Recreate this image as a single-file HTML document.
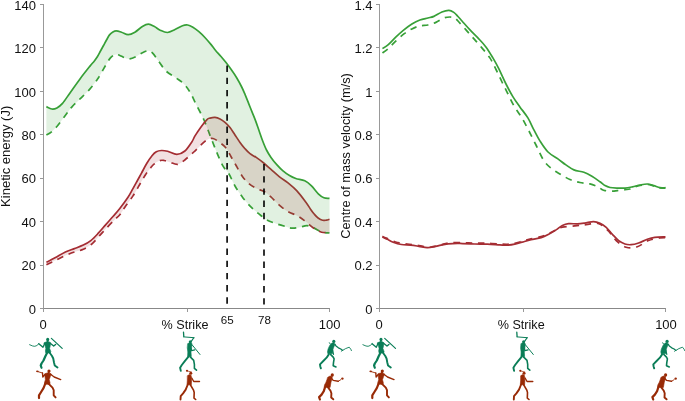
<!DOCTYPE html>
<html><head><meta charset="utf-8"><style>
html,body{margin:0;padding:0;background:#fff;}
body{width:685px;height:401px;overflow:hidden;position:relative;}
svg{position:absolute;left:0;top:0;will-change:transform;}
text{font-family:"Liberation Sans",sans-serif;fill:#111;}
</style></head><body>
<svg width="685" height="401" viewBox="0 0 685 401">
<g font-size="13">
<line x1="43.5" y1="4" x2="43.5" y2="309" stroke="#999" stroke-width="1"/>
<line x1="43.0" y1="308.5" x2="330.0" y2="308.5" stroke="#888" stroke-width="1"/>
<line x1="40.0" y1="308.5" x2="43.5" y2="308.5" stroke="#999" stroke-width="1"/>
<text x="36" y="313.70" text-anchor="end">0</text>
<line x1="40.0" y1="265.5" x2="43.5" y2="265.5" stroke="#999" stroke-width="1"/>
<text x="36" y="270.27" text-anchor="end">20</text>
<line x1="40.0" y1="221.5" x2="43.5" y2="221.5" stroke="#999" stroke-width="1"/>
<text x="36" y="226.84" text-anchor="end">40</text>
<line x1="40.0" y1="178.5" x2="43.5" y2="178.5" stroke="#999" stroke-width="1"/>
<text x="36" y="183.41" text-anchor="end">60</text>
<line x1="40.0" y1="134.5" x2="43.5" y2="134.5" stroke="#999" stroke-width="1"/>
<text x="36" y="139.98" text-anchor="end">80</text>
<line x1="40.0" y1="91.5" x2="43.5" y2="91.5" stroke="#999" stroke-width="1"/>
<text x="36" y="96.55" text-anchor="end">100</text>
<line x1="40.0" y1="47.5" x2="43.5" y2="47.5" stroke="#999" stroke-width="1"/>
<text x="36" y="53.12" text-anchor="end">120</text>
<line x1="40.0" y1="4.5" x2="43.5" y2="4.5" stroke="#999" stroke-width="1"/>
<text x="36" y="9.69" text-anchor="end">140</text>
<line x1="43.5" y1="308.5" x2="43.5" y2="312" stroke="#999" stroke-width="1"/>
<line x1="187.5" y1="308.5" x2="187.5" y2="312" stroke="#999" stroke-width="1"/>
<line x1="329.5" y1="308.5" x2="329.5" y2="312" stroke="#999" stroke-width="1"/>

<line x1="379.5" y1="4" x2="379.5" y2="309" stroke="#999" stroke-width="1"/>
<line x1="379.0" y1="308.5" x2="666.0" y2="308.5" stroke="#888" stroke-width="1"/>
<line x1="376.0" y1="308.5" x2="379.5" y2="308.5" stroke="#999" stroke-width="1"/>
<text x="372.5" y="313.70" text-anchor="end">0</text>
<line x1="376.0" y1="265.5" x2="379.5" y2="265.5" stroke="#999" stroke-width="1"/>
<text x="372.5" y="270.27" text-anchor="end">0.2</text>
<line x1="376.0" y1="221.5" x2="379.5" y2="221.5" stroke="#999" stroke-width="1"/>
<text x="372.5" y="226.84" text-anchor="end">0.4</text>
<line x1="376.0" y1="178.5" x2="379.5" y2="178.5" stroke="#999" stroke-width="1"/>
<text x="372.5" y="183.41" text-anchor="end">0.6</text>
<line x1="376.0" y1="134.5" x2="379.5" y2="134.5" stroke="#999" stroke-width="1"/>
<text x="372.5" y="139.98" text-anchor="end">0.8</text>
<line x1="376.0" y1="91.5" x2="379.5" y2="91.5" stroke="#999" stroke-width="1"/>
<text x="372.5" y="96.55" text-anchor="end">1</text>
<line x1="376.0" y1="47.5" x2="379.5" y2="47.5" stroke="#999" stroke-width="1"/>
<text x="372.5" y="53.12" text-anchor="end">1.2</text>
<line x1="376.0" y1="4.5" x2="379.5" y2="4.5" stroke="#999" stroke-width="1"/>
<text x="372.5" y="9.69" text-anchor="end">1.4</text>
<line x1="379.5" y1="308.5" x2="379.5" y2="312" stroke="#999" stroke-width="1"/>
<line x1="523.5" y1="308.5" x2="523.5" y2="312" stroke="#999" stroke-width="1"/>
<line x1="665.5" y1="308.5" x2="665.5" y2="312" stroke="#999" stroke-width="1"/>

</g>
<path d="M46.40,134.90 C47.20,134.43 49.45,133.50 51.20,132.10 C52.95,130.70 55.02,128.65 56.90,126.50 C58.78,124.35 60.65,121.63 62.50,119.20 C64.35,116.77 66.42,113.97 68.00,111.90 C69.58,109.83 70.00,108.97 72.00,106.80 C74.00,104.63 77.00,101.88 80.00,98.90 C83.00,95.92 87.17,92.07 90.00,88.90 C92.83,85.73 95.50,81.90 97.00,79.90 C98.50,77.90 98.00,78.57 99.00,76.90 C100.00,75.23 101.75,72.07 103.00,69.90 C104.25,67.73 105.33,65.82 106.50,63.90 C107.67,61.98 108.75,59.88 110.00,58.40 C111.25,56.92 112.83,55.65 114.00,55.00 C115.17,54.35 115.83,54.33 117.00,54.50 C118.17,54.67 119.67,55.42 121.00,56.00 C122.33,56.58 123.55,57.52 125.00,58.00 C126.45,58.48 127.80,59.17 129.70,58.90 C131.60,58.63 134.28,57.43 136.40,56.40 C138.52,55.37 140.40,53.65 142.40,52.70 C144.40,51.75 146.65,50.58 148.40,50.70 C150.15,50.82 151.22,51.68 152.90,53.40 C154.58,55.12 156.32,58.07 158.50,61.00 C160.68,63.93 163.08,68.18 166.00,71.00 C168.92,73.82 173.02,75.75 176.00,77.90 C178.98,80.05 181.58,81.57 183.90,83.90 C186.22,86.23 187.90,88.57 189.90,91.90 C191.90,95.23 193.55,99.22 195.90,103.90 C198.25,108.58 201.48,114.33 204.00,120.00 C206.52,125.67 208.83,132.42 211.00,137.90 C213.17,143.38 215.02,148.23 217.00,152.90 C218.98,157.57 220.90,162.38 222.90,165.90 C224.90,169.42 226.98,170.65 229.00,174.00 C231.02,177.35 232.67,182.02 235.00,186.00 C237.33,189.98 240.35,194.42 243.00,197.90 C245.65,201.38 248.25,204.23 250.90,206.90 C253.55,209.57 256.23,211.73 258.90,213.90 C261.57,216.07 263.90,218.23 266.90,219.90 C269.90,221.57 273.57,222.73 276.90,223.90 C280.23,225.07 284.38,226.18 286.90,226.90 C289.42,227.62 289.95,228.12 292.00,228.20 C294.05,228.28 296.70,227.82 299.20,227.40 C301.70,226.98 304.57,225.62 307.00,225.70 C309.43,225.78 311.37,226.87 313.80,227.90 C316.23,228.93 318.98,231.05 321.60,231.90 C324.22,232.75 328.18,232.82 329.50,233.00" fill="none" stroke="#38a038" stroke-width="1.7" stroke-dasharray="6.5 5.7"/>
<path d="M46.40,106.60 C47.30,107.00 50.05,108.78 51.80,109.00 C53.55,109.22 55.12,108.83 56.90,107.90 C58.68,106.97 60.32,105.90 62.50,103.40 C64.68,100.90 67.08,96.98 70.00,92.90 C72.92,88.82 76.67,83.37 80.00,78.90 C83.33,74.43 87.67,69.02 90.00,66.10 C92.33,63.18 92.75,63.00 94.00,61.40 C95.25,59.80 96.42,58.23 97.50,56.50 C98.58,54.77 99.50,52.83 100.50,51.00 C101.50,49.17 102.50,47.33 103.50,45.50 C104.50,43.67 105.50,41.77 106.50,40.00 C107.50,38.23 108.43,36.23 109.50,34.90 C110.57,33.57 111.78,32.67 112.90,32.00 C114.02,31.33 114.77,30.87 116.20,30.90 C117.63,30.93 119.50,31.57 121.50,32.20 C123.50,32.83 125.97,34.70 128.20,34.70 C130.43,34.70 132.53,33.57 134.90,32.20 C137.27,30.83 140.15,27.83 142.40,26.50 C144.65,25.17 146.40,24.20 148.40,24.20 C150.40,24.20 152.43,25.50 154.40,26.50 C156.37,27.50 158.02,29.20 160.20,30.20 C162.38,31.20 165.03,32.62 167.50,32.50 C169.97,32.38 172.50,30.63 175.00,29.50 C177.50,28.37 180.38,26.45 182.50,25.70 C184.62,24.95 185.97,24.75 187.70,25.00 C189.43,25.25 191.03,26.08 192.90,27.20 C194.77,28.32 196.90,29.98 198.90,31.70 C200.90,33.42 202.90,35.38 204.90,37.50 C206.90,39.62 209.15,42.28 210.90,44.40 C212.65,46.52 213.72,48.18 215.40,50.20 C217.08,52.22 219.23,54.43 221.00,56.50 C222.77,58.57 224.30,60.42 226.00,62.60 C227.70,64.78 229.45,67.12 231.20,69.60 C232.95,72.08 234.75,74.60 236.50,77.50 C238.25,80.40 240.25,84.10 241.70,87.00 C243.15,89.90 244.03,92.13 245.20,94.90 C246.37,97.67 247.53,100.68 248.70,103.60 C249.87,106.52 251.03,109.48 252.20,112.40 C253.37,115.32 254.57,118.08 255.70,121.10 C256.83,124.12 257.83,127.18 259.00,130.50 C260.17,133.82 261.45,137.75 262.70,141.00 C263.95,144.25 265.12,147.27 266.50,150.00 C267.88,152.73 269.25,154.92 271.00,157.40 C272.75,159.88 275.00,162.65 277.00,164.90 C279.00,167.15 280.92,169.12 283.00,170.90 C285.08,172.68 287.37,174.33 289.50,175.60 C291.63,176.87 293.25,177.63 295.80,178.50 C298.35,179.37 302.18,179.57 304.80,180.80 C307.42,182.03 309.25,183.73 311.50,185.90 C313.75,188.07 316.23,191.82 318.30,193.80 C320.37,195.78 322.03,197.05 323.90,197.80 C325.77,198.55 328.57,198.22 329.50,198.30" fill="none" stroke="#38a038" stroke-width="1.7"/>
<path d="M46.40,264.80 C47.83,264.10 51.83,262.15 55.00,260.60 C58.17,259.05 62.17,256.93 65.40,255.50 C68.63,254.07 71.42,253.03 74.40,252.00 C77.38,250.97 80.32,250.70 83.30,249.30 C86.28,247.90 89.55,245.92 92.30,243.60 C95.05,241.28 97.30,238.13 99.80,235.40 C102.30,232.67 104.82,229.82 107.30,227.20 C109.78,224.58 112.58,221.82 114.70,219.70 C116.82,217.58 118.28,216.63 120.00,214.50 C121.72,212.37 122.83,210.00 125.00,206.90 C127.17,203.80 130.35,199.98 133.00,195.90 C135.65,191.82 138.77,186.00 140.90,182.40 C143.03,178.80 144.17,176.73 145.80,174.30 C147.43,171.87 149.33,169.48 150.70,167.80 C152.07,166.12 152.48,165.40 154.00,164.20 C155.52,163.00 158.10,161.22 159.80,160.60 C161.50,159.98 162.52,160.23 164.20,160.50 C165.88,160.77 167.62,161.55 169.90,162.20 C172.18,162.85 175.23,164.93 177.90,164.40 C180.57,163.87 183.25,161.07 185.90,159.00 C188.55,156.93 191.28,154.35 193.80,152.00 C196.32,149.65 198.80,146.92 201.00,144.90 C203.20,142.88 205.00,140.97 207.00,139.90 C209.00,138.83 210.83,138.03 213.00,138.50 C215.17,138.97 217.83,141.12 220.00,142.70 C222.17,144.28 224.13,145.62 226.00,148.00 C227.87,150.38 229.47,154.00 231.20,157.00 C232.93,160.00 234.53,162.77 236.40,166.00 C238.27,169.23 240.27,173.42 242.40,176.40 C244.53,179.38 246.85,181.88 249.20,183.90 C251.55,185.92 254.03,187.23 256.50,188.50 C258.97,189.77 261.60,190.10 264.00,191.50 C266.40,192.90 268.40,194.67 270.90,196.90 C273.40,199.13 276.23,202.50 279.00,204.90 C281.77,207.30 284.33,209.42 287.50,211.30 C290.67,213.18 294.93,214.45 298.00,216.20 C301.07,217.95 303.27,219.80 305.90,221.80 C308.53,223.80 311.18,226.45 313.80,228.20 C316.42,229.95 318.98,231.57 321.60,232.30 C324.22,233.03 328.18,232.55 329.50,232.60" fill="none" stroke="#a52d33" stroke-width="1.7" stroke-dasharray="6.5 5.7"/>
<path d="M46.40,262.30 C47.83,261.55 51.83,259.53 55.00,257.80 C58.17,256.07 62.17,253.43 65.40,251.90 C68.63,250.37 71.42,249.73 74.40,248.60 C77.38,247.47 80.57,246.43 83.30,245.10 C86.03,243.77 88.30,242.58 90.80,240.60 C93.30,238.62 95.80,235.87 98.30,233.20 C100.80,230.53 103.32,227.42 105.80,224.60 C108.28,221.78 110.87,218.98 113.20,216.30 C115.53,213.62 117.33,211.67 119.80,208.50 C122.27,205.33 125.83,200.57 128.00,197.30 C130.17,194.03 131.18,191.78 132.80,188.90 C134.42,186.02 136.25,182.63 137.70,180.00 C139.15,177.37 140.00,175.85 141.50,173.10 C143.00,170.35 144.95,166.40 146.70,163.50 C148.45,160.60 150.40,157.65 152.00,155.70 C153.60,153.75 154.72,152.67 156.30,151.80 C157.88,150.93 159.62,150.58 161.50,150.50 C163.38,150.42 165.03,150.65 167.60,151.30 C170.17,151.95 174.02,154.45 176.90,154.40 C179.78,154.35 182.42,153.07 184.90,151.00 C187.38,148.93 190.12,144.52 191.80,142.00 C193.48,139.48 193.47,138.42 195.00,135.90 C196.53,133.38 199.00,129.62 201.00,126.90 C203.00,124.18 205.50,121.07 207.00,119.60 C208.50,118.13 208.67,118.47 210.00,118.10 C211.33,117.73 213.33,117.27 215.00,117.40 C216.67,117.53 218.33,118.07 220.00,118.90 C221.67,119.73 223.33,120.97 225.00,122.40 C226.67,123.83 228.33,125.40 230.00,127.50 C231.67,129.60 233.33,132.52 235.00,135.00 C236.67,137.48 238.33,140.12 240.00,142.40 C241.67,144.68 243.33,146.82 245.00,148.70 C246.67,150.58 248.13,152.25 250.00,153.70 C251.87,155.15 253.92,155.85 256.20,157.40 C258.48,158.95 261.23,161.00 263.70,163.00 C266.17,165.00 268.37,167.10 271.00,169.40 C273.63,171.70 276.67,174.57 279.50,176.80 C282.33,179.03 285.10,180.47 288.00,182.80 C290.90,185.13 293.92,187.57 296.90,190.80 C299.88,194.03 303.60,199.08 305.90,202.20 C308.20,205.32 309.28,207.48 310.70,209.50 C312.12,211.52 313.17,212.88 314.40,214.30 C315.63,215.72 316.73,217.00 318.10,218.00 C319.47,219.00 321.22,219.95 322.60,220.30 C323.98,220.65 325.25,220.27 326.40,220.10 C327.55,219.93 328.98,219.43 329.50,219.30" fill="none" stroke="#a52d33" stroke-width="1.7"/>
<path d="M46.40,106.60 C47.30,107.00 50.05,108.78 51.80,109.00 C53.55,109.22 55.12,108.83 56.90,107.90 C58.68,106.97 60.32,105.90 62.50,103.40 C64.68,100.90 67.08,96.98 70.00,92.90 C72.92,88.82 76.67,83.37 80.00,78.90 C83.33,74.43 87.67,69.02 90.00,66.10 C92.33,63.18 92.75,63.00 94.00,61.40 C95.25,59.80 96.42,58.23 97.50,56.50 C98.58,54.77 99.50,52.83 100.50,51.00 C101.50,49.17 102.50,47.33 103.50,45.50 C104.50,43.67 105.50,41.77 106.50,40.00 C107.50,38.23 108.43,36.23 109.50,34.90 C110.57,33.57 111.78,32.67 112.90,32.00 C114.02,31.33 114.77,30.87 116.20,30.90 C117.63,30.93 119.50,31.57 121.50,32.20 C123.50,32.83 125.97,34.70 128.20,34.70 C130.43,34.70 132.53,33.57 134.90,32.20 C137.27,30.83 140.15,27.83 142.40,26.50 C144.65,25.17 146.40,24.20 148.40,24.20 C150.40,24.20 152.43,25.50 154.40,26.50 C156.37,27.50 158.02,29.20 160.20,30.20 C162.38,31.20 165.03,32.62 167.50,32.50 C169.97,32.38 172.50,30.63 175.00,29.50 C177.50,28.37 180.38,26.45 182.50,25.70 C184.62,24.95 185.97,24.75 187.70,25.00 C189.43,25.25 191.03,26.08 192.90,27.20 C194.77,28.32 196.90,29.98 198.90,31.70 C200.90,33.42 202.90,35.38 204.90,37.50 C206.90,39.62 209.15,42.28 210.90,44.40 C212.65,46.52 213.72,48.18 215.40,50.20 C217.08,52.22 219.23,54.43 221.00,56.50 C222.77,58.57 224.30,60.42 226.00,62.60 C227.70,64.78 229.45,67.12 231.20,69.60 C232.95,72.08 234.75,74.60 236.50,77.50 C238.25,80.40 240.25,84.10 241.70,87.00 C243.15,89.90 244.03,92.13 245.20,94.90 C246.37,97.67 247.53,100.68 248.70,103.60 C249.87,106.52 251.03,109.48 252.20,112.40 C253.37,115.32 254.57,118.08 255.70,121.10 C256.83,124.12 257.83,127.18 259.00,130.50 C260.17,133.82 261.45,137.75 262.70,141.00 C263.95,144.25 265.12,147.27 266.50,150.00 C267.88,152.73 269.25,154.92 271.00,157.40 C272.75,159.88 275.00,162.65 277.00,164.90 C279.00,167.15 280.92,169.12 283.00,170.90 C285.08,172.68 287.37,174.33 289.50,175.60 C291.63,176.87 293.25,177.63 295.80,178.50 C298.35,179.37 302.18,179.57 304.80,180.80 C307.42,182.03 309.25,183.73 311.50,185.90 C313.75,188.07 316.23,191.82 318.30,193.80 C320.37,195.78 322.03,197.05 323.90,197.80 C325.77,198.55 328.57,198.22 329.50,198.30 L329.50,233.00 C328.18,232.82 324.22,232.75 321.60,231.90 C318.98,231.05 316.23,228.93 313.80,227.90 C311.37,226.87 309.43,225.78 307.00,225.70 C304.57,225.62 301.70,226.98 299.20,227.40 C296.70,227.82 294.05,228.28 292.00,228.20 C289.95,228.12 289.42,227.62 286.90,226.90 C284.38,226.18 280.23,225.07 276.90,223.90 C273.57,222.73 269.90,221.57 266.90,219.90 C263.90,218.23 261.57,216.07 258.90,213.90 C256.23,211.73 253.55,209.57 250.90,206.90 C248.25,204.23 245.65,201.38 243.00,197.90 C240.35,194.42 237.33,189.98 235.00,186.00 C232.67,182.02 231.02,177.35 229.00,174.00 C226.98,170.65 224.90,169.42 222.90,165.90 C220.90,162.38 218.98,157.57 217.00,152.90 C215.02,148.23 213.17,143.38 211.00,137.90 C208.83,132.42 206.52,125.67 204.00,120.00 C201.48,114.33 198.25,108.58 195.90,103.90 C193.55,99.22 191.90,95.23 189.90,91.90 C187.90,88.57 186.22,86.23 183.90,83.90 C181.58,81.57 178.98,80.05 176.00,77.90 C173.02,75.75 168.92,73.82 166.00,71.00 C163.08,68.18 160.68,63.93 158.50,61.00 C156.32,58.07 154.58,55.12 152.90,53.40 C151.22,51.68 150.15,50.82 148.40,50.70 C146.65,50.58 144.40,51.75 142.40,52.70 C140.40,53.65 138.52,55.37 136.40,56.40 C134.28,57.43 131.60,58.63 129.70,58.90 C127.80,59.17 126.45,58.48 125.00,58.00 C123.55,57.52 122.33,56.58 121.00,56.00 C119.67,55.42 118.17,54.67 117.00,54.50 C115.83,54.33 115.17,54.35 114.00,55.00 C112.83,55.65 111.25,56.92 110.00,58.40 C108.75,59.88 107.67,61.98 106.50,63.90 C105.33,65.82 104.25,67.73 103.00,69.90 C101.75,72.07 100.00,75.23 99.00,76.90 C98.00,78.57 98.50,77.90 97.00,79.90 C95.50,81.90 92.83,85.73 90.00,88.90 C87.17,92.07 83.00,95.92 80.00,98.90 C77.00,101.88 74.00,104.63 72.00,106.80 C70.00,108.97 69.58,109.83 68.00,111.90 C66.42,113.97 64.35,116.77 62.50,119.20 C60.65,121.63 58.78,124.35 56.90,126.50 C55.02,128.65 52.95,130.70 51.20,132.10 C49.45,133.50 47.20,134.43 46.40,134.90 Z" fill="#38a038" fill-opacity="0.15" stroke="none"/>
<path d="M46.40,262.30 C47.83,261.55 51.83,259.53 55.00,257.80 C58.17,256.07 62.17,253.43 65.40,251.90 C68.63,250.37 71.42,249.73 74.40,248.60 C77.38,247.47 80.57,246.43 83.30,245.10 C86.03,243.77 88.30,242.58 90.80,240.60 C93.30,238.62 95.80,235.87 98.30,233.20 C100.80,230.53 103.32,227.42 105.80,224.60 C108.28,221.78 110.87,218.98 113.20,216.30 C115.53,213.62 117.33,211.67 119.80,208.50 C122.27,205.33 125.83,200.57 128.00,197.30 C130.17,194.03 131.18,191.78 132.80,188.90 C134.42,186.02 136.25,182.63 137.70,180.00 C139.15,177.37 140.00,175.85 141.50,173.10 C143.00,170.35 144.95,166.40 146.70,163.50 C148.45,160.60 150.40,157.65 152.00,155.70 C153.60,153.75 154.72,152.67 156.30,151.80 C157.88,150.93 159.62,150.58 161.50,150.50 C163.38,150.42 165.03,150.65 167.60,151.30 C170.17,151.95 174.02,154.45 176.90,154.40 C179.78,154.35 182.42,153.07 184.90,151.00 C187.38,148.93 190.12,144.52 191.80,142.00 C193.48,139.48 193.47,138.42 195.00,135.90 C196.53,133.38 199.00,129.62 201.00,126.90 C203.00,124.18 205.50,121.07 207.00,119.60 C208.50,118.13 208.67,118.47 210.00,118.10 C211.33,117.73 213.33,117.27 215.00,117.40 C216.67,117.53 218.33,118.07 220.00,118.90 C221.67,119.73 223.33,120.97 225.00,122.40 C226.67,123.83 228.33,125.40 230.00,127.50 C231.67,129.60 233.33,132.52 235.00,135.00 C236.67,137.48 238.33,140.12 240.00,142.40 C241.67,144.68 243.33,146.82 245.00,148.70 C246.67,150.58 248.13,152.25 250.00,153.70 C251.87,155.15 253.92,155.85 256.20,157.40 C258.48,158.95 261.23,161.00 263.70,163.00 C266.17,165.00 268.37,167.10 271.00,169.40 C273.63,171.70 276.67,174.57 279.50,176.80 C282.33,179.03 285.10,180.47 288.00,182.80 C290.90,185.13 293.92,187.57 296.90,190.80 C299.88,194.03 303.60,199.08 305.90,202.20 C308.20,205.32 309.28,207.48 310.70,209.50 C312.12,211.52 313.17,212.88 314.40,214.30 C315.63,215.72 316.73,217.00 318.10,218.00 C319.47,219.00 321.22,219.95 322.60,220.30 C323.98,220.65 325.25,220.27 326.40,220.10 C327.55,219.93 328.98,219.43 329.50,219.30 L329.50,232.60 C328.18,232.55 324.22,233.03 321.60,232.30 C318.98,231.57 316.42,229.95 313.80,228.20 C311.18,226.45 308.53,223.80 305.90,221.80 C303.27,219.80 301.07,217.95 298.00,216.20 C294.93,214.45 290.67,213.18 287.50,211.30 C284.33,209.42 281.77,207.30 279.00,204.90 C276.23,202.50 273.40,199.13 270.90,196.90 C268.40,194.67 266.40,192.90 264.00,191.50 C261.60,190.10 258.97,189.77 256.50,188.50 C254.03,187.23 251.55,185.92 249.20,183.90 C246.85,181.88 244.53,179.38 242.40,176.40 C240.27,173.42 238.27,169.23 236.40,166.00 C234.53,162.77 232.93,160.00 231.20,157.00 C229.47,154.00 227.87,150.38 226.00,148.00 C224.13,145.62 222.17,144.28 220.00,142.70 C217.83,141.12 215.17,138.97 213.00,138.50 C210.83,138.03 209.00,138.83 207.00,139.90 C205.00,140.97 203.20,142.88 201.00,144.90 C198.80,146.92 196.32,149.65 193.80,152.00 C191.28,154.35 188.55,156.93 185.90,159.00 C183.25,161.07 180.57,163.87 177.90,164.40 C175.23,164.93 172.18,162.85 169.90,162.20 C167.62,161.55 165.88,160.77 164.20,160.50 C162.52,160.23 161.50,159.98 159.80,160.60 C158.10,161.22 155.52,163.00 154.00,164.20 C152.48,165.40 152.07,166.12 150.70,167.80 C149.33,169.48 147.43,171.87 145.80,174.30 C144.17,176.73 143.03,178.80 140.90,182.40 C138.77,186.00 135.65,191.82 133.00,195.90 C130.35,199.98 127.17,203.80 125.00,206.90 C122.83,210.00 121.72,212.37 120.00,214.50 C118.28,216.63 116.82,217.58 114.70,219.70 C112.58,221.82 109.78,224.58 107.30,227.20 C104.82,229.82 102.30,232.67 99.80,235.40 C97.30,238.13 95.05,241.28 92.30,243.60 C89.55,245.92 86.28,247.90 83.30,249.30 C80.32,250.70 77.38,250.97 74.40,252.00 C71.42,253.03 68.63,254.07 65.40,255.50 C62.17,256.93 58.17,259.05 55.00,260.60 C51.83,262.15 47.83,264.10 46.40,264.80 Z" fill="#a52d33" fill-opacity="0.15" stroke="none"/>

<path d="M382.40,52.90 C383.33,52.23 385.73,50.90 388.00,48.90 C390.27,46.90 393.35,43.40 396.00,40.90 C398.65,38.40 401.25,35.90 403.90,33.90 C406.55,31.90 409.23,30.23 411.90,28.90 C414.57,27.57 417.23,26.55 419.90,25.90 C422.57,25.25 425.23,25.58 427.90,25.00 C430.57,24.42 433.23,23.57 435.90,22.40 C438.57,21.23 441.57,18.90 443.90,18.00 C446.23,17.10 448.08,17.00 449.90,17.00 C451.72,17.00 453.45,17.33 454.80,18.00 C456.15,18.67 456.13,19.02 458.00,21.00 C459.87,22.98 463.33,26.92 466.00,29.90 C468.67,32.88 471.35,35.90 474.00,38.90 C476.65,41.90 479.25,44.73 481.90,47.90 C484.55,51.07 487.55,54.30 489.90,57.90 C492.25,61.50 493.98,65.48 496.00,69.50 C498.02,73.52 500.00,77.92 502.00,82.00 C504.00,86.08 506.00,90.02 508.00,94.00 C510.00,97.98 511.68,101.92 514.00,105.90 C516.32,109.88 519.42,113.73 521.90,117.90 C524.38,122.07 526.55,126.38 528.90,130.90 C531.25,135.42 533.48,140.00 536.00,145.00 C538.52,150.00 541.33,156.92 544.00,160.90 C546.67,164.88 549.35,166.73 552.00,168.90 C554.65,171.07 556.92,172.13 559.90,173.90 C562.88,175.67 566.57,178.07 569.90,179.50 C573.23,180.93 576.57,181.77 579.90,182.50 C583.23,183.23 586.90,183.17 589.90,183.90 C592.90,184.63 596.02,186.05 597.90,186.90 C599.78,187.75 600.02,188.38 601.20,189.00 C602.38,189.62 603.12,190.23 605.00,190.60 C606.88,190.97 610.42,191.20 612.50,191.20 C614.58,191.20 615.42,190.85 617.50,190.60 C619.58,190.35 622.92,189.97 625.00,189.70 C627.08,189.43 628.50,189.42 630.00,189.00 C631.50,188.58 632.33,187.78 634.00,187.20 C635.67,186.62 637.77,185.95 640.00,185.50 C642.23,185.05 645.12,184.42 647.40,184.50 C649.68,184.58 651.62,185.42 653.70,186.00 C655.78,186.58 657.93,187.67 659.90,188.00 C661.87,188.33 664.57,188.00 665.50,188.00" fill="none" stroke="#38a038" stroke-width="1.7" stroke-dasharray="6.5 5.7"/>
<path d="M382.40,48.50 C383.33,47.90 385.73,46.83 388.00,44.90 C390.27,42.97 393.35,39.40 396.00,36.90 C398.65,34.40 401.25,32.05 403.90,29.90 C406.55,27.75 409.23,25.65 411.90,24.00 C414.57,22.35 417.23,21.00 419.90,20.00 C422.57,19.00 425.57,18.60 427.90,18.00 C430.23,17.40 431.57,17.40 433.90,16.40 C436.23,15.40 439.40,13.00 441.90,12.00 C444.40,11.00 446.92,10.33 448.90,10.40 C450.88,10.47 452.28,11.38 453.80,12.40 C455.32,13.42 456.63,15.07 458.00,16.50 C459.37,17.93 460.00,18.77 462.00,21.00 C464.00,23.23 467.35,27.08 470.00,29.90 C472.65,32.72 475.25,35.07 477.90,37.90 C480.55,40.73 483.40,43.57 485.90,46.90 C488.40,50.23 490.73,54.23 492.90,57.90 C495.07,61.57 496.72,64.55 498.90,68.90 C501.08,73.25 503.65,79.33 506.00,84.00 C508.35,88.67 510.68,93.08 513.00,96.90 C515.32,100.72 517.42,103.40 519.90,106.90 C522.38,110.40 525.57,114.07 527.90,117.90 C530.23,121.73 531.90,126.07 533.90,129.90 C535.90,133.73 537.55,137.22 539.90,140.90 C542.25,144.58 545.00,149.00 548.00,152.00 C551.00,155.00 554.92,156.75 557.90,158.90 C560.88,161.05 563.23,163.07 565.90,164.90 C568.57,166.73 570.90,168.67 573.90,169.90 C576.90,171.13 580.90,171.23 583.90,172.30 C586.90,173.37 589.22,174.72 591.90,176.30 C594.58,177.88 597.82,180.25 600.00,181.80 C602.18,183.35 603.33,184.65 605.00,185.60 C606.67,186.55 607.92,187.08 610.00,187.50 C612.08,187.92 615.00,188.00 617.50,188.10 C620.00,188.20 622.50,188.32 625.00,188.10 C627.50,187.88 630.00,187.32 632.50,186.80 C635.00,186.28 637.52,185.47 640.00,185.00 C642.48,184.53 645.12,183.90 647.40,184.00 C649.68,184.10 651.62,184.98 653.70,185.60 C655.78,186.22 657.93,187.35 659.90,187.70 C661.87,188.05 664.57,187.70 665.50,187.70" fill="none" stroke="#38a038" stroke-width="1.7"/>
<path d="M382.40,236.40 C383.03,236.68 384.02,237.17 386.20,238.10 C388.38,239.03 392.00,241.02 395.50,242.00 C399.00,242.98 403.30,243.42 407.20,244.00 C411.10,244.58 415.58,244.98 418.90,245.50 C422.22,246.02 424.77,246.92 427.10,247.10 C429.43,247.28 430.18,247.08 432.90,246.60 C435.62,246.12 440.55,244.83 443.40,244.20 C446.25,243.57 446.82,243.05 450.00,242.80 C453.18,242.55 458.35,242.65 462.50,242.70 C466.65,242.75 470.75,243.00 474.90,243.10 C479.05,243.20 483.25,243.15 487.40,243.30 C491.55,243.45 496.48,243.83 499.80,244.00 C503.12,244.17 504.80,244.42 507.30,244.30 C509.80,244.18 512.32,243.82 514.80,243.30 C517.28,242.78 519.67,241.92 522.20,241.20 C524.73,240.48 526.83,239.77 530.00,239.00 C533.17,238.23 538.08,237.50 541.20,236.60 C544.32,235.70 546.22,234.72 548.70,233.60 C551.18,232.48 553.82,230.97 556.10,229.90 C558.38,228.83 559.28,227.87 562.40,227.20 C565.52,226.53 570.87,226.32 574.80,225.90 C578.73,225.48 582.43,225.17 586.00,224.70 C589.57,224.23 593.67,223.10 596.20,223.10 C598.73,223.10 599.12,223.35 601.20,224.70 C603.28,226.05 606.20,228.57 608.70,231.20 C611.20,233.83 613.30,237.83 616.20,240.50 C619.10,243.17 622.58,246.17 626.10,247.20 C629.62,248.23 633.57,247.82 637.30,246.70 C641.03,245.58 644.75,241.95 648.50,240.50 C652.25,239.05 656.97,238.48 659.80,238.00 C662.63,237.52 664.55,237.67 665.50,237.60" fill="none" stroke="#a52d33" stroke-width="1.7" stroke-dasharray="6.5 5.7"/>
<path d="M382.40,236.90 C383.22,237.30 385.50,238.42 387.30,239.30 C389.10,240.18 390.85,241.33 393.20,242.20 C395.55,243.07 398.48,244.02 401.40,244.50 C404.32,244.98 407.78,244.80 410.70,245.10 C413.62,245.40 416.17,245.87 418.90,246.30 C421.63,246.73 424.57,247.60 427.10,247.70 C429.63,247.80 431.77,247.33 434.10,246.90 C436.43,246.47 438.77,245.60 441.10,245.10 C443.43,244.60 445.38,244.20 448.10,243.90 C450.82,243.60 455.00,243.35 457.40,243.30 C459.80,243.25 459.58,243.48 462.50,243.60 C465.42,243.72 470.75,243.90 474.90,244.00 C479.05,244.10 483.25,244.05 487.40,244.20 C491.55,244.35 496.48,244.73 499.80,244.90 C503.12,245.07 504.80,245.32 507.30,245.20 C509.80,245.08 512.32,244.72 514.80,244.20 C517.28,243.68 519.50,242.85 522.20,242.10 C524.90,241.35 527.83,240.45 531.00,239.70 C534.17,238.95 538.25,238.50 541.20,237.60 C544.15,236.70 546.22,235.58 548.70,234.30 C551.18,233.02 553.82,231.37 556.10,229.90 C558.38,228.43 560.32,226.53 562.40,225.50 C564.48,224.47 566.12,223.97 568.60,223.70 C571.08,223.43 574.60,224.00 577.30,223.90 C580.00,223.80 582.10,223.48 584.80,223.10 C587.50,222.72 590.97,221.58 593.50,221.60 C596.03,221.62 597.88,222.23 600.00,223.20 C602.12,224.17 604.13,225.55 606.20,227.40 C608.27,229.25 610.32,232.08 612.40,234.30 C614.48,236.52 616.62,239.08 618.70,240.70 C620.78,242.32 622.83,243.33 624.90,244.00 C626.97,244.67 628.82,244.87 631.10,244.70 C633.38,244.53 635.90,243.90 638.60,243.00 C641.30,242.10 644.60,240.23 647.30,239.30 C650.00,238.37 651.77,237.82 654.80,237.40 C657.83,236.98 663.72,236.90 665.50,236.80" fill="none" stroke="#a52d33" stroke-width="1.7"/>

<line x1="227.1" y1="65.5" x2="227.1" y2="308" stroke="#000" stroke-width="1.6" stroke-dasharray="6.4 5.8"/>
<line x1="264" y1="164" x2="264" y2="308" stroke="#000" stroke-width="1.6" stroke-dasharray="6.4 5.8"/>
<g font-size="13">
<text x="43" y="328.5" text-anchor="middle">0</text>
<text x="329.7" y="328.5" text-anchor="middle">100</text>
<text x="185" y="328.8" text-anchor="middle" font-size="12.6">% Strike</text>
<text x="379.2" y="328.5" text-anchor="middle">0</text>
<text x="666" y="328.5" text-anchor="middle">100</text>
<text x="521.2" y="328.8" text-anchor="middle" font-size="12.6">% Strike</text>
<text transform="translate(9.6,156.3) rotate(-90)" text-anchor="middle">Kinetic energy (J)</text>
<text transform="translate(349.6,156) rotate(-90)" text-anchor="middle" font-size="12.8">Centre of mass velocity (m/s)</text>
</g>
<g font-size="11.6">
<text x="227.3" y="323.8" text-anchor="middle">65</text>
<text x="264.5" y="323.8" text-anchor="middle">78</text>
</g>
<g fill="none" stroke="#0a7d57" stroke-linecap="round" stroke-linejoin="round"><ellipse cx="47.7" cy="339.5" rx="1.55" ry="1.8" fill="#0a7d57" stroke="none"/><path d="M47.6,340.5 L47.6,342.3" stroke-width="1.6"/><path d="M44.2,342.8 L46.4,341.8 L49,341.8 L50.6,342.8 L50.2,346 L49.6,348.5 L50.8,351.5 L50.3,353 L45.8,353 L45.4,351 L45.8,348.5 L45.2,346 Z" fill="#0a7d57" stroke="#0a7d57" stroke-width="0.6"/><path d="M44.8,343.2 L43,347.3 L38.8,343.7" stroke-width="1.3"/><path d="M38.8,343.7 L36.9,345.5 L34.8,346.3 L32.7,346 L29.6,344.7" stroke-width="0.9"/><path d="M50.2,343.2 L53.7,346 L55.6,344.5" stroke-width="1.4"/><path d="M51.4,338.4 L62.2,348.4" stroke-width="1.2"/><path d="M47.25,352.5 L45.25,356.5 L43.5,360.5 L41.5,363.5 L40.75,365.5 L41.5,367.75" stroke-width="2.2"/><path d="M49.5,352.5 L52,356 L53.25,358.5 L54,362.5 L54.75,365.5 L57.5,367.5" stroke-width="1.9"/></g><g fill="none" stroke="#982a06" stroke-linecap="round" stroke-linejoin="round"><ellipse cx="49" cy="371.1" rx="1.6" ry="1.7" fill="#982a06" stroke="none"/><path d="M48.8,372 L48.4,373.8" stroke-width="1.8"/><path d="M45,373.8 L47,373 L50,373.2 L51.3,374 L50.3,376.5 L49.2,379.7 L50,382.5 L49.9,384.3 L44.7,384.3 L44.5,382.5 L45.4,379.7 L45,376.5 Z" fill="#982a06" stroke="#982a06" stroke-width="0.6"/><path d="M45.2,374.2 L42.8,377 L42.5,373" stroke-width="1.4"/><path d="M42.5,373 L37.1,371.4" stroke-width="0.9"/><ellipse cx="37.4" cy="371.4" rx="1.3" ry="0.8" fill="#982a06" stroke="none"/><path d="M50.6,374.3 L54.2,377 L60.7,379.6" stroke-width="1.4"/><path d="M45.4,383.4 L43.5,388.2 L41.1,392 L39,395.3 L39,398.1" stroke-width="2.2"/><path d="M48.7,383.9 L52.5,387.7 L53.7,390.1 L53.7,395.3 L55.6,397.4" stroke-width="1.9"/></g><g fill="none" stroke="#0a7d57" stroke-linecap="round" stroke-linejoin="round"><path d="M183.5,332.2 L183.8,336.6" stroke-width="1.3"/><path d="M183.8,336.9 L194.2,337.7" stroke-width="1.0"/><path d="M193.6,338 L191.2,341.5" stroke-width="1.3"/><ellipse cx="190.3" cy="341.8" rx="1.5" ry="1.6" fill="#0a7d57" stroke="none"/><path d="M187.9,343.5 L189.5,342.8 L191.5,343 L192,344 L191.6,348 L191,352 L191.3,356.6 L187.6,356.6 L187.8,352 L187.3,348 Z" fill="#0a7d57" stroke="#0a7d57" stroke-width="0.6"/><path d="M190.9,348.2 L191.6,350.6 L194.8,349.9" stroke-width="1.2"/><path d="M192,344.7 L200,354.5" stroke-width="1.0"/><path d="M188.5,356.6 L185,360.8 L181.8,365 L180.1,367.7 L180.8,370.9" stroke-width="1.9"/><path d="M190.2,356.9 L193.7,360.4 L194.4,364.3 L194.4,368.4 L196.5,370.2" stroke-width="1.6"/></g><g fill="none" stroke="#982a06" stroke-linecap="round" stroke-linejoin="round"><ellipse cx="187" cy="370.75" rx="1.1" ry="0.9" fill="#982a06" stroke="none"/><path d="M187,370.9 L191.5,372" stroke-width="0.7"/><ellipse cx="190.75" cy="373.25" rx="1.5" ry="1.6" fill="#982a06" stroke="none"/><path d="M187.6,375.6 L189.5,374.6 L191.2,375.5 L191.6,380.5 L191.3,384.8 L187,384.8 L187.3,380.5 Z" fill="#982a06" stroke="#982a06" stroke-width="0.6"/><path d="M191.75,378 L193.75,381.5 L199.5,381.5" stroke-width="1.4"/><path d="M187.8,384.5 L185.7,389.6 L183.1,393.4 L180.7,396.2 L180.5,399.5" stroke-width="1.9"/><path d="M190.2,384.5 L193.5,390.1 L194.2,392.4 L194,398.1 L195.7,399.5" stroke-width="1.6"/></g><g fill="none" stroke="#0a7d57" stroke-linecap="round" stroke-linejoin="round"><ellipse cx="333.8" cy="341.4" rx="1.6" ry="1.7" fill="#0a7d57" stroke="none"/><path d="M330.5,344.3 L332,343 L334,343 L335,344.3 L333.8,347 L333,349.2 L332.6,353.5 L328,354 L327.5,352 L328,349.2 L329.2,346.5 Z" fill="#0a7d57" stroke="#0a7d57" stroke-width="0.6"/><path d="M330.1,343.4 L329.2,342.9" stroke-width="1.0"/><path d="M332.5,350 L333.5,354.4" stroke-width="1.2"/><path d="M335,344.3 L336,346 L338.4,347.8 L340.8,349 L342.6,350.4" stroke-width="1.3"/><path d="M342.6,350.4 L345.6,348.6 L349.2,347.2 L350.8,349.2 L351.4,350.6" stroke-width="0.9"/><path d="M342.4,350.3 L341.2,351.4" stroke-width="0.8"/><path d="M328.8,354.4 L326.6,357.7 L323.3,361 L320,364.3 L320.3,366.5 L320.9,368.4" stroke-width="1.9"/><path d="M330.5,354.4 L333.2,357.1 L334.1,358.8 L333.5,362.6 L333.2,365.7 L336,367" stroke-width="1.6"/></g><g fill="none" stroke="#982a06" stroke-linecap="round" stroke-linejoin="round"><ellipse cx="332.3" cy="375" rx="1.6" ry="1.7" fill="#982a06" stroke="none"/><path d="M327.8,377.3 L330,376 L332.3,376.5 L332,378.5 L331,382.2 L330.5,385 L330.1,387.4 L324.2,387.4 L324.5,385 L326,382.2 L327,379.5 Z" fill="#982a06" stroke="#982a06" stroke-width="0.6"/><path d="M331.4,378.2 L333.2,380.4 L338.2,381.3" stroke-width="1.4"/><path d="M338.2,381.3 L340.8,379.7" stroke-width="0.9"/><ellipse cx="342.4" cy="378.6" rx="1.2" ry="1.2" fill="#982a06" stroke="none"/><path d="M325,387.4 L323.8,391.2 L321.6,394.6 L319.1,397.1 L319.9,399.5" stroke-width="2.2"/><path d="M328,387.4 L330.5,390.8 L331.4,393.3 L331.2,397.6 L333.3,399.3" stroke-width="1.9"/></g>
<g transform="translate(333.3,0)"><g fill="none" stroke="#0a7d57" stroke-linecap="round" stroke-linejoin="round"><ellipse cx="47.7" cy="339.5" rx="1.55" ry="1.8" fill="#0a7d57" stroke="none"/><path d="M47.6,340.5 L47.6,342.3" stroke-width="1.6"/><path d="M44.2,342.8 L46.4,341.8 L49,341.8 L50.6,342.8 L50.2,346 L49.6,348.5 L50.8,351.5 L50.3,353 L45.8,353 L45.4,351 L45.8,348.5 L45.2,346 Z" fill="#0a7d57" stroke="#0a7d57" stroke-width="0.6"/><path d="M44.8,343.2 L43,347.3 L38.8,343.7" stroke-width="1.3"/><path d="M38.8,343.7 L36.9,345.5 L34.8,346.3 L32.7,346 L29.6,344.7" stroke-width="0.9"/><path d="M50.2,343.2 L53.7,346 L55.6,344.5" stroke-width="1.4"/><path d="M51.4,338.4 L62.2,348.4" stroke-width="1.2"/><path d="M47.25,352.5 L45.25,356.5 L43.5,360.5 L41.5,363.5 L40.75,365.5 L41.5,367.75" stroke-width="2.2"/><path d="M49.5,352.5 L52,356 L53.25,358.5 L54,362.5 L54.75,365.5 L57.5,367.5" stroke-width="1.9"/></g><g fill="none" stroke="#982a06" stroke-linecap="round" stroke-linejoin="round"><ellipse cx="49" cy="371.1" rx="1.6" ry="1.7" fill="#982a06" stroke="none"/><path d="M48.8,372 L48.4,373.8" stroke-width="1.8"/><path d="M45,373.8 L47,373 L50,373.2 L51.3,374 L50.3,376.5 L49.2,379.7 L50,382.5 L49.9,384.3 L44.7,384.3 L44.5,382.5 L45.4,379.7 L45,376.5 Z" fill="#982a06" stroke="#982a06" stroke-width="0.6"/><path d="M45.2,374.2 L42.8,377 L42.5,373" stroke-width="1.4"/><path d="M42.5,373 L37.1,371.4" stroke-width="0.9"/><ellipse cx="37.4" cy="371.4" rx="1.3" ry="0.8" fill="#982a06" stroke="none"/><path d="M50.6,374.3 L54.2,377 L60.7,379.6" stroke-width="1.4"/><path d="M45.4,383.4 L43.5,388.2 L41.1,392 L39,395.3 L39,398.1" stroke-width="2.2"/><path d="M48.7,383.9 L52.5,387.7 L53.7,390.1 L53.7,395.3 L55.6,397.4" stroke-width="1.9"/></g><g fill="none" stroke="#0a7d57" stroke-linecap="round" stroke-linejoin="round"><path d="M183.5,332.2 L183.8,336.6" stroke-width="1.3"/><path d="M183.8,336.9 L194.2,337.7" stroke-width="1.0"/><path d="M193.6,338 L191.2,341.5" stroke-width="1.3"/><ellipse cx="190.3" cy="341.8" rx="1.5" ry="1.6" fill="#0a7d57" stroke="none"/><path d="M187.9,343.5 L189.5,342.8 L191.5,343 L192,344 L191.6,348 L191,352 L191.3,356.6 L187.6,356.6 L187.8,352 L187.3,348 Z" fill="#0a7d57" stroke="#0a7d57" stroke-width="0.6"/><path d="M190.9,348.2 L191.6,350.6 L194.8,349.9" stroke-width="1.2"/><path d="M192,344.7 L200,354.5" stroke-width="1.0"/><path d="M188.5,356.6 L185,360.8 L181.8,365 L180.1,367.7 L180.8,370.9" stroke-width="1.9"/><path d="M190.2,356.9 L193.7,360.4 L194.4,364.3 L194.4,368.4 L196.5,370.2" stroke-width="1.6"/></g><g fill="none" stroke="#982a06" stroke-linecap="round" stroke-linejoin="round"><ellipse cx="187" cy="370.75" rx="1.1" ry="0.9" fill="#982a06" stroke="none"/><path d="M187,370.9 L191.5,372" stroke-width="0.7"/><ellipse cx="190.75" cy="373.25" rx="1.5" ry="1.6" fill="#982a06" stroke="none"/><path d="M187.6,375.6 L189.5,374.6 L191.2,375.5 L191.6,380.5 L191.3,384.8 L187,384.8 L187.3,380.5 Z" fill="#982a06" stroke="#982a06" stroke-width="0.6"/><path d="M191.75,378 L193.75,381.5 L199.5,381.5" stroke-width="1.4"/><path d="M187.8,384.5 L185.7,389.6 L183.1,393.4 L180.7,396.2 L180.5,399.5" stroke-width="1.9"/><path d="M190.2,384.5 L193.5,390.1 L194.2,392.4 L194,398.1 L195.7,399.5" stroke-width="1.6"/></g><g fill="none" stroke="#0a7d57" stroke-linecap="round" stroke-linejoin="round"><ellipse cx="333.8" cy="341.4" rx="1.6" ry="1.7" fill="#0a7d57" stroke="none"/><path d="M330.5,344.3 L332,343 L334,343 L335,344.3 L333.8,347 L333,349.2 L332.6,353.5 L328,354 L327.5,352 L328,349.2 L329.2,346.5 Z" fill="#0a7d57" stroke="#0a7d57" stroke-width="0.6"/><path d="M330.1,343.4 L329.2,342.9" stroke-width="1.0"/><path d="M332.5,350 L333.5,354.4" stroke-width="1.2"/><path d="M335,344.3 L336,346 L338.4,347.8 L340.8,349 L342.6,350.4" stroke-width="1.3"/><path d="M342.6,350.4 L345.6,348.6 L349.2,347.2 L350.8,349.2 L351.4,350.6" stroke-width="0.9"/><path d="M342.4,350.3 L341.2,351.4" stroke-width="0.8"/><path d="M328.8,354.4 L326.6,357.7 L323.3,361 L320,364.3 L320.3,366.5 L320.9,368.4" stroke-width="1.9"/><path d="M330.5,354.4 L333.2,357.1 L334.1,358.8 L333.5,362.6 L333.2,365.7 L336,367" stroke-width="1.6"/></g><g fill="none" stroke="#982a06" stroke-linecap="round" stroke-linejoin="round"><ellipse cx="332.3" cy="375" rx="1.6" ry="1.7" fill="#982a06" stroke="none"/><path d="M327.8,377.3 L330,376 L332.3,376.5 L332,378.5 L331,382.2 L330.5,385 L330.1,387.4 L324.2,387.4 L324.5,385 L326,382.2 L327,379.5 Z" fill="#982a06" stroke="#982a06" stroke-width="0.6"/><path d="M331.4,378.2 L333.2,380.4 L338.2,381.3" stroke-width="1.4"/><path d="M338.2,381.3 L340.8,379.7" stroke-width="0.9"/><ellipse cx="342.4" cy="378.6" rx="1.2" ry="1.2" fill="#982a06" stroke="none"/><path d="M325,387.4 L323.8,391.2 L321.6,394.6 L319.1,397.1 L319.9,399.5" stroke-width="2.2"/><path d="M328,387.4 L330.5,390.8 L331.4,393.3 L331.2,397.6 L333.3,399.3" stroke-width="1.9"/></g></g>
</svg>
</body></html>
